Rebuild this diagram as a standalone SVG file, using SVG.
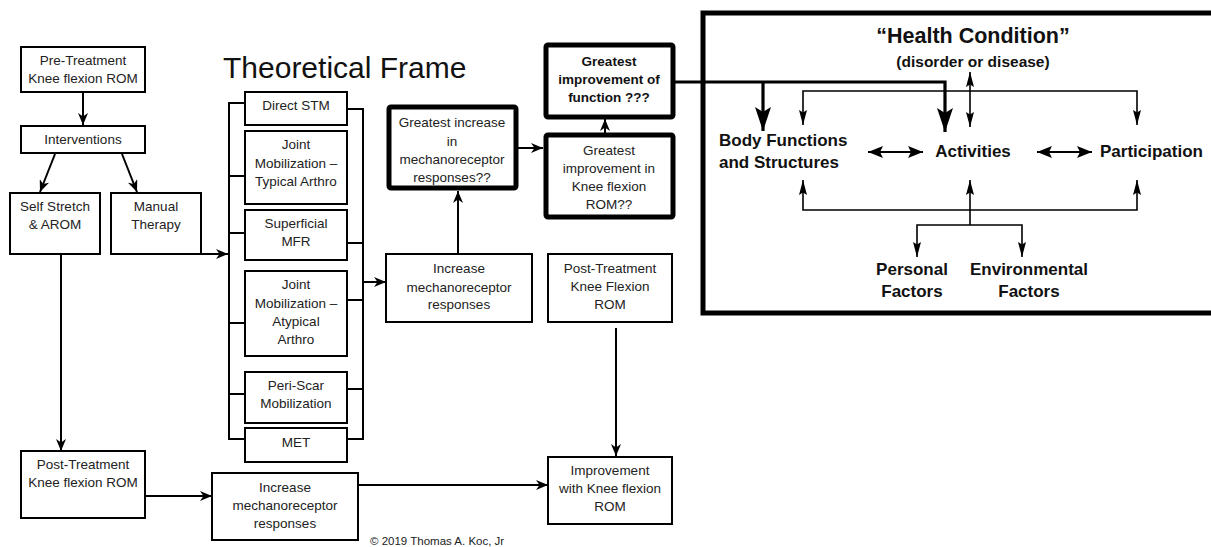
<svg xmlns="http://www.w3.org/2000/svg" width="1211" height="547" viewBox="0 0 1211 547">
<style>
.bx{fill:#fff;stroke:#000;stroke-width:2}
.tk{fill:#fff;stroke:#000;stroke-width:5}
.t{font-family:"Liberation Sans",Arial,sans-serif;font-size:13.5px;fill:#222;text-anchor:middle}
.tb{font-family:"Liberation Sans",Arial,sans-serif;font-size:13.5px;font-weight:bold;fill:#111;text-anchor:middle}
.icf{font-family:"Liberation Sans",Arial,sans-serif;font-weight:bold;fill:#111}
.ln{fill:none;stroke:#000;stroke-width:2}
.thin{fill:none;stroke:#000;stroke-width:1.6}
.thick{fill:none;stroke:#000;stroke-width:3.2}
</style>
<defs>
<marker id="arr" viewBox="0 0 12 10" refX="12" refY="5" markerWidth="12" markerHeight="10" markerUnits="userSpaceOnUse" orient="auto">
<path d="M0,0 L12,5 L0,10 L3.5,5 z" fill="#000"/>
</marker>
<marker id="arrThin" viewBox="0 0 15 8" refX="15" refY="4" markerWidth="15" markerHeight="8" markerUnits="userSpaceOnUse" orient="auto-start-reverse">
<path d="M0,0 L15,4 L0,8 L2.5,4 z" fill="#000"/>
</marker>
<marker id="arrBig" viewBox="0 0 24 16" refX="24" refY="8" markerWidth="24" markerHeight="16" markerUnits="userSpaceOnUse" orient="auto">
<path d="M0,0 L24,8 L0,16 L5,8 z" fill="#000"/>
</marker>
<marker id="arrMed" viewBox="0 0 15 12" refX="15" refY="6" markerWidth="15" markerHeight="12" markerUnits="userSpaceOnUse" orient="auto-start-reverse">
<path d="M0,0 L15,6 L0,12 L3,6 z" fill="#000"/>
</marker>
</defs>
<rect width="1211" height="547" fill="#fff"/>

<text x="223" y="78" font-family="'Liberation Sans',Arial,sans-serif" font-size="30" fill="#111">Theoretical Frame</text>

<g id="connectors">
<line class="ln" x1="83" y1="92" x2="83" y2="125" marker-end="url(#arr)"/>
<line class="ln" x1="55" y1="154" x2="40" y2="192" marker-end="url(#arr)"/>
<line class="ln" x1="122" y1="154" x2="137" y2="192" marker-end="url(#arr)"/>
<line class="ln" x1="201" y1="254" x2="228" y2="254" marker-end="url(#arr)"/>
<line class="ln" x1="61" y1="254" x2="61" y2="451" marker-end="url(#arr)"/>
<polyline class="ln" points="245,103 229,103 229,439 245,439"/>
<line class="ln" x1="229" y1="176" x2="245" y2="176"/>
<line class="ln" x1="229" y1="233" x2="245" y2="233"/>
<line class="ln" x1="229" y1="323" x2="245" y2="323"/>
<line class="ln" x1="229" y1="394" x2="245" y2="394"/>
<polyline class="ln" points="347,109 363,109 363,439 347,439"/>
<line class="ln" x1="347" y1="243" x2="363" y2="243"/>
<line class="ln" x1="347" y1="300" x2="363" y2="300"/>
<line class="ln" x1="347" y1="389" x2="363" y2="389"/>
<line class="ln" x1="363" y1="282" x2="386" y2="282" marker-end="url(#arr)"/>
<line class="ln" x1="458" y1="254" x2="458" y2="191" marker-end="url(#arr)"/>
<line class="ln" x1="516" y1="148" x2="543" y2="148" marker-end="url(#arr)"/>
<line class="ln" x1="605" y1="133" x2="605" y2="119" marker-end="url(#arr)"/>
<line class="ln" x1="616" y1="328" x2="616" y2="456" marker-end="url(#arr)"/>
<line class="ln" x1="145" y1="496" x2="212" y2="496" marker-end="url(#arr)"/>
<line class="ln" x1="358" y1="485" x2="548" y2="485" marker-end="url(#arr)"/>
<polyline class="thick" points="673,82 945,82 945,132" marker-end="url(#arrBig)"/>
<line class="thick" x1="763" y1="82" x2="763" y2="131" marker-end="url(#arrBig)"/>
<polyline class="thin" points="803,125 803,91 1137,91 1137,125" marker-start="url(#arrThin)" marker-end="url(#arrThin)"/>
<line class="thin" x1="970" y1="72" x2="970" y2="127" marker-start="url(#arrThin)" marker-end="url(#arrThin)"/>
<line class="ln" stroke-width="2.6" x1="868" y1="152" x2="923" y2="152" marker-start="url(#arrMed)" marker-end="url(#arrMed)"/>
<line class="ln" stroke-width="2.6" x1="1037" y1="152" x2="1092" y2="152" marker-start="url(#arrMed)" marker-end="url(#arrMed)"/>
<polyline class="thin" points="803,180 803,210 1137,210 1137,180" marker-start="url(#arrThin)" marker-end="url(#arrThin)"/>
<line class="thin" x1="970" y1="225" x2="970" y2="180" marker-end="url(#arrThin)"/>
<polyline class="thin" points="917,257 917,225 1022,225 1022,257" marker-start="url(#arrThin)" marker-end="url(#arrThin)"/>
</g>

<g id="pre-treatment">
<rect class="bx" x="21" y="47" width="124" height="45"/>
<text class="t" x="83" y="65">Pre-Treatment</text>
<text class="t" x="83" y="83">Knee flexion ROM</text>
</g>
<g id="interventions">
<rect class="bx" x="21" y="126" width="124" height="27"/>
<text class="t" x="83" y="144">Interventions</text>
</g>
<g id="self-stretch">
<rect class="bx" x="10" y="193" width="90" height="61"/>
<text class="t" x="55" y="211">Self Stretch</text>
<text class="t" x="55" y="229">&amp; AROM</text>
</g>
<g id="manual-therapy">
<rect class="bx" x="111" y="193" width="90" height="61"/>
<text class="t" x="156" y="211">Manual</text>
<text class="t" x="156" y="229">Therapy</text>
</g>
<g id="direct-stm">
<rect class="bx" x="245" y="92" width="102" height="33"/>
<text class="t" x="296" y="110">Direct STM</text>
</g>
<g id="joint-typical">
<rect class="bx" x="245" y="131" width="102" height="73"/>
<text class="t" x="296" y="149">Joint</text>
<text class="t" x="296" y="168">Mobilization –</text>
<text class="t" x="296" y="186">Typical Arthro</text>
</g>
<g id="superficial-mfr">
<rect class="bx" x="245" y="210" width="102" height="50"/>
<text class="t" x="296" y="228">Superficial</text>
<text class="t" x="296" y="246">MFR</text>
</g>
<g id="joint-atypical">
<rect class="bx" x="245" y="271" width="102" height="85"/>
<text class="t" x="296" y="289">Joint</text>
<text class="t" x="296" y="308">Mobilization –</text>
<text class="t" x="296" y="326">Atypical</text>
<text class="t" x="296" y="344">Arthro</text>
</g>
<g id="peri-scar">
<rect class="bx" x="245" y="372" width="102" height="51"/>
<text class="t" x="296" y="390">Peri-Scar</text>
<text class="t" x="296" y="408">Mobilization</text>
</g>
<g id="met">
<rect class="bx" x="245" y="428" width="102" height="34"/>
<text class="t" x="296" y="447">MET</text>
</g>
<g id="greatest-increase">
<rect class="tk" x="389" y="107" width="127" height="81" rx="2"/>
<text class="t" x="452" y="127">Greatest increase</text>
<text class="t" x="452" y="146">in</text>
<text class="t" x="452" y="164">mechanoreceptor</text>
<text class="t" x="452" y="182">responses??</text>
</g>
<g id="increase-mid">
<rect class="bx" x="386" y="254" width="146" height="68"/>
<text class="t" x="459" y="273">Increase</text>
<text class="t" x="459" y="292">mechanoreceptor</text>
<text class="t" x="459" y="309">responses</text>
</g>
<g id="greatest-function">
<rect class="tk" x="546" y="45" width="127" height="72" rx="2"/>
<text class="tb" x="609" y="66">Greatest</text>
<text class="tb" x="609" y="84">improvement of</text>
<text class="tb" x="609" y="102">function ???</text>
</g>
<g id="greatest-knee">
<rect class="tk" x="546" y="135" width="127" height="82" rx="2"/>
<text class="t" x="609" y="155">Greatest</text>
<text class="t" x="609" y="173">improvement in</text>
<text class="t" x="609" y="191">Knee flexion</text>
<text class="t" x="609" y="209">ROM??</text>
</g>
<g id="post-treatment-right">
<rect class="bx" x="548" y="254" width="124" height="68"/>
<text class="t" x="610" y="273">Post-Treatment</text>
<text class="t" x="610" y="291">Knee Flexion</text>
<text class="t" x="610" y="309">ROM</text>
</g>
<g id="improvement">
<rect class="bx" x="548" y="457" width="124" height="67"/>
<text class="t" x="610" y="475">Improvement</text>
<text class="t" x="610" y="493">with Knee flexion</text>
<text class="t" x="610" y="511">ROM</text>
</g>
<g id="post-treatment-left">
<rect class="bx" x="21" y="451" width="124" height="67"/>
<text class="t" x="83" y="469">Post-Treatment</text>
<text class="t" x="83" y="487">Knee flexion ROM</text>
</g>
<g id="increase-bottom">
<rect class="bx" x="212" y="473" width="146" height="67"/>
<text class="t" x="285" y="492">Increase</text>
<text class="t" x="285" y="510">mechanoreceptor</text>
<text class="t" x="285" y="528">responses</text>
</g>
<text x="370" y="545" font-family="'Liberation Sans',Arial,sans-serif" font-size="11.5" fill="#222">© 2019 Thomas A. Koc, Jr</text>

<g id="icf-frame">
<polyline fill="none" stroke="#000" stroke-width="5" points="1214,13 703,13 703,313 1214,313"/>
</g>
<g id="health-condition">
<text class="icf" x="973" y="43" font-size="21.5" text-anchor="middle">“Health Condition”</text>
<text class="icf" x="973" y="67" font-size="15.5" text-anchor="middle">(disorder or disease)</text>
</g>
<g id="body-functions">
<text class="icf" x="719" y="146" font-size="17">Body Functions</text>
<text class="icf" x="719" y="168" font-size="17">and Structures</text>
</g>
<g id="activities">
<text class="icf" x="973" y="157" font-size="17" text-anchor="middle">Activities</text>
</g>
<g id="participation">
<text class="icf" x="1100" y="157" font-size="17">Participation</text>
</g>
<g id="personal-factors">
<text class="icf" x="912" y="275" font-size="17" text-anchor="middle">Personal</text>
<text class="icf" x="912" y="297" font-size="17" text-anchor="middle">Factors</text>
</g>
<g id="environmental-factors">
<text class="icf" x="1029" y="275" font-size="17" text-anchor="middle">Environmental</text>
<text class="icf" x="1029" y="297" font-size="17" text-anchor="middle">Factors</text>
</g>
</svg>
